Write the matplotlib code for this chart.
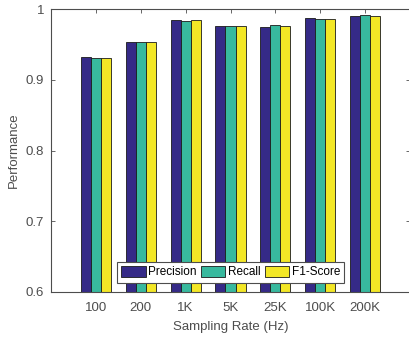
import matplotlib
matplotlib.use('Agg')
import matplotlib.pyplot as plt
import numpy as np

## data ##
rates = ['100', '200', '1K', '5K', '25K', '100K', '200K']
precision = [0.932, 0.953, 0.985, 0.976, 0.9745, 0.987, 0.9905]
recall = [0.931, 0.954, 0.983, 0.9755, 0.977, 0.986, 0.991]
f1_score = [0.931, 0.954, 0.984, 0.9755, 0.9755, 0.986, 0.9905]

series = [('Precision', precision, '#352a87'),
          ('Recall', recall, '#38b99e'),
          ('F1-Score', f1_score, '#f3e726')]

plt.rcParams['font.family'] = ['Liberation Sans', 'DejaVu Sans']
axis_col = '#4d4d4d'

fig = plt.figure(figsize=(4.09, 3.37), dpi=100)
# right edge of the box falls just outside the picture
ax = fig.add_axes([51 / 409, 45 / 337, 359 / 409, 283 / 337])

x = np.arange(1, len(rates) + 1)
w = 0.223
for i, (name, vals, col) in enumerate(series):
    ax.bar(x + (i - 1) * w, vals, width=w, color=col, edgecolor='#1a1a1a',
           linewidth=0.6, label=name, zorder=2)

ax.set_xlim(0, 8)
ax.set_ylim(0.6, 1.0)
ax.set_xticks(x)
ax.set_xticklabels(rates)
ax.set_yticks([0.6, 0.7, 0.8, 0.9, 1.0])
ax.set_yticklabels(['0.6', '0.7', '0.8', '0.9', '1'])
ax.tick_params(direction='in', length=3, width=0.6, colors=axis_col,
               labelsize=9.5, top=True, right=True)
ax.tick_params(axis='x', pad=7.5)
ax.tick_params(axis='y', pad=5)
for s in ax.spines.values():
    s.set_color(axis_col)
    s.set_linewidth(0.8)
ax.spines['right'].set_visible(False)

ax.set_xlabel('Sampling Rate (Hz)', fontsize=9.5, color=axis_col, labelpad=5)
ax.set_ylabel('Performance', fontsize=9.5, color=axis_col, labelpad=4)

leg = ax.legend(loc='lower center', bbox_to_anchor=(0.5, 0.0), ncol=3,
                fontsize=8.5, frameon=True, fancybox=False, framealpha=1,
                borderaxespad=0.8, handlelength=2.1, handleheight=1.05,
                handletextpad=0.2, columnspacing=0.35, borderpad=0.35)
leg.get_frame().set_edgecolor(axis_col)
leg.get_frame().set_linewidth(0.8)
leg.set_zorder(5)

fig.savefig('out.png', dpi=100)
